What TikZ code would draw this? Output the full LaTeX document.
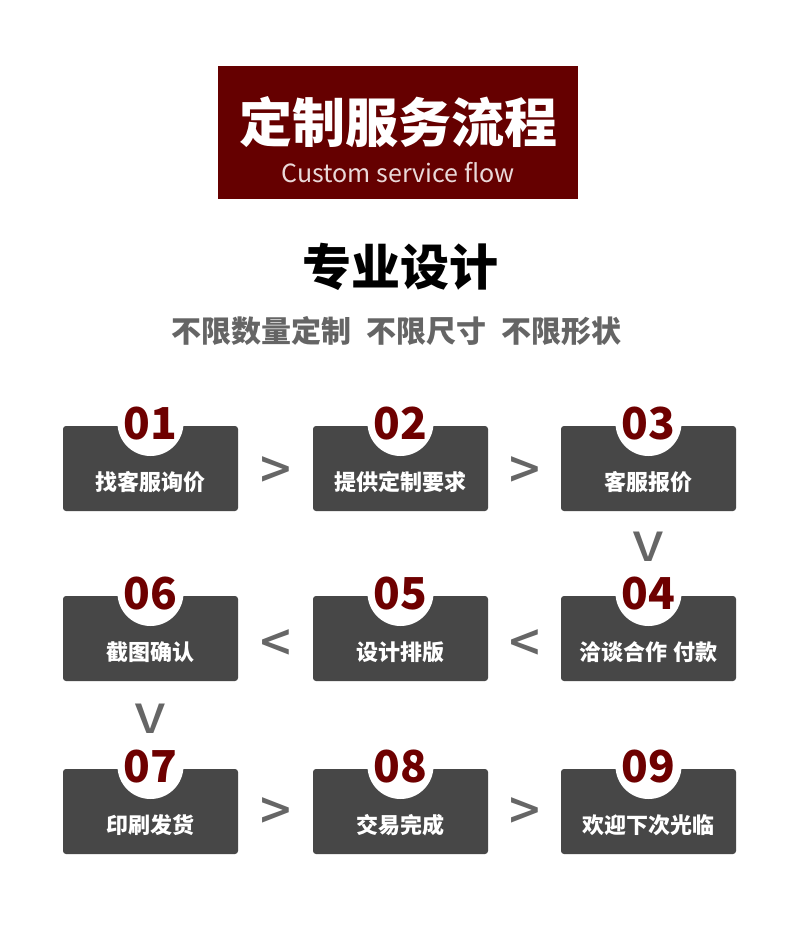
\documentclass[tikz,border=0pt]{standalone}
\usepackage{fontspec}
\setmainfont{Noto Sans CJK SC}
\newfontfamily\medfont{Noto Sans CJK SC Medium}
\usetikzlibrary{calc}
\definecolor{hdr}{HTML}{650000}
\definecolor{numred}{HTML}{6E0000}
\definecolor{boxgray}{HTML}{474747}
\definecolor{arrgray}{HTML}{666666}
\definecolor{subgray}{HTML}{656565}
\definecolor{engcol}{HTML}{EAD9D9}
\tikzset{
  stepbox/.style={fill=boxgray, rounded corners=3pt, minimum width=175pt, minimum height=85pt, inner sep=0pt, draw=none},
  numdisc/.style={circle, fill=white, minimum size=66pt, inner sep=0pt},
  numtext/.style={text=numred, font=\fontsize{44}{44}\selectfont\bfseries, inner sep=0pt},
  steplabel/.style={text=white, font=\fontsize{22}{22}\selectfont\bfseries, inner sep=0pt},
  flowsign/.style={text=arrgray, font=\fontsize{54}{54}\medfont, inner sep=0pt},
  downsign/.style={text=arrgray, font=\fontsize{40}{40}\medfont, inner sep=0pt, xscale=1.25}
}
\newcommand{\stepitem}[5]{%
  % #1 name, #2 cx, #3 top, #4 number, #5 label
  \node[stepbox] (b#1) at (#2,#3+42.5) {};
  \node[numdisc] (c#1) at (#2,#3-3) {};
  \node[numtext] (n#1) at (#2,#3-2) {#4};
  \node[steplabel] (l#1) at (#2,#3+56) {#5};
}
\begin{document}
\begin{tikzpicture}[x=1pt,y=-1pt]
\useasboundingbox[fill=white] (0,0) rectangle (800,928);
% header
\node[fill=hdr, minimum width=360pt, minimum height=133pt, inner sep=0pt] (hdrbox) at (398,132.5) {};
\node[text=white, font=\fontsize{53}{53}\selectfont\bfseries, inner sep=0pt] (title) at (398,122) {定制服务流程};
\node[text=engcol, font=\fontsize{25}{25}\selectfont, inner sep=0pt] (eng) at (398,173) {Custom service flow};
\node[text=black, font=\fontsize{49}{49}\selectfont\bfseries, inner sep=0pt] (pro) at (400,267) {专业设计};
\node[text=subgray, font=\fontsize{30}{30}\selectfont\bfseries, inner sep=0pt] (sub) at (396,331) {不限数量定制\hspace{0.5em}不限尺寸\hspace{0.5em}不限形状};
% steps
\stepitem{1}{150.5}{426}{01}{找客服询价}
\stepitem{2}{400.5}{426}{02}{提供定制要求}
\stepitem{3}{648.5}{426}{03}{客服报价}
\stepitem{4}{648.5}{596}{04}{洽谈合作 付款}
\stepitem{5}{400.5}{596}{05}{设计排版}
\stepitem{6}{150.5}{596}{06}{截图确认}
\stepitem{7}{150.5}{769}{07}{印刷发货}
\stepitem{8}{400.5}{769}{08}{交易完成}
\stepitem{9}{648.5}{769}{09}{欢迎下次光临}
% flow signs
\node[flowsign] (a12) at ($(b1.east)!0.5!(b2.west)+(0,4.5)$) {>};
\node[flowsign] (a23) at ($(b2.east)!0.5!(b3.west)+(0,4.5)$) {>};
\node[downsign] (a34) at ($(b3.south)!0.5!(b4.north)+(0,-7)$) {V};
\node[flowsign] (a45) at ($(b5.east)!0.5!(b4.west)+(0,8)$) {<};
\node[flowsign] (a56) at ($(b6.east)!0.5!(b5.west)+(0,8)$) {<};
\node[downsign] (a67) at ($(b6.south)!0.5!(b7.north)+(0,-6)$) {V};
\node[flowsign] (a78) at ($(b7.east)!0.5!(b8.west)+(0,3)$) {>};
\node[flowsign] (a89) at ($(b8.east)!0.5!(b9.west)+(0,3)$) {>};
\end{tikzpicture}
\end{document}
